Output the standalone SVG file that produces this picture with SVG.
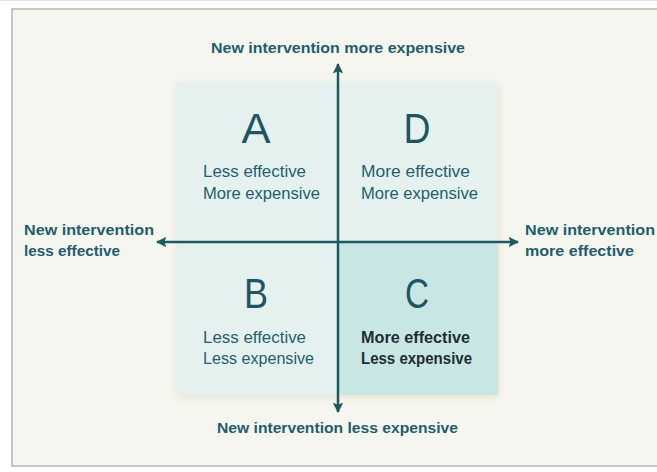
<svg xmlns="http://www.w3.org/2000/svg" width="657" height="472" viewBox="0 0 657 472">
<defs>
<style>
.lbl{font-family:"Liberation Sans",Arial,sans-serif;font-weight:bold;font-size:15px;fill:#1f5d6c}
.q{font-family:"Liberation Sans",Arial,sans-serif;font-size:16.5px;fill:#235f6d}
.qb{font-family:"Liberation Sans",Arial,sans-serif;font-size:16.5px;font-weight:bold;fill:#1f2c36}
.big{font-family:"Liberation Sans",Arial,sans-serif;font-size:42px;fill:#1f5562;text-anchor:middle}
.ax{stroke:#1c5a5f;stroke-width:2.5;fill:none}
</style>
<marker id="ah" viewBox="0 0 10 10" refX="9" refY="5" markerWidth="4.2" markerHeight="4.2" orient="auto" markerUnits="strokeWidth">
<path d="M0,0 L10,5 L0,10 L2,5 z" fill="#1c5a5f"/>
</marker>
<filter id="sh" x="-10%" y="-10%" width="120%" height="120%">
<feGaussianBlur stdDeviation="4"/>
</filter>
</defs>
<rect x="0" y="0" width="657" height="472" fill="#ffffff"/>
<line x1="0" y1="0.5" x2="657" y2="0.5" stroke="#e4e4e4" stroke-width="1"/>
<rect x="12" y="9" width="660" height="457" fill="#f6f6f0" stroke="#b3b3b3" stroke-width="1.5"/>
<rect x="177" y="84" width="322" height="313" fill="#e0d8c4" opacity="0.7" filter="url(#sh)"/>
<g id="quadA"><rect x="177" y="82" width="161" height="160" fill="#e5f1ef"/>
<text class="big" x="256" y="143" textLength="29" lengthAdjust="spacingAndGlyphs">A</text>
<text class="q" x="203" y="177" textLength="103" lengthAdjust="spacingAndGlyphs">Less effective</text>
<text class="q" x="203" y="199" textLength="117" lengthAdjust="spacingAndGlyphs">More expensive</text></g>
<g id="quadD"><rect x="338" y="82" width="160" height="160" fill="#e5f1ef"/>
<text class="big" x="417" y="143" textLength="27" lengthAdjust="spacingAndGlyphs">D</text>
<text class="q" x="361" y="177" textLength="109" lengthAdjust="spacingAndGlyphs">More effective</text>
<text class="q" x="361" y="199" textLength="117" lengthAdjust="spacingAndGlyphs">More expensive</text></g>
<g id="quadB"><rect x="177" y="242" width="161" height="153" fill="#e5f1ef"/>
<text class="big" x="256" y="308" textLength="24" lengthAdjust="spacingAndGlyphs">B</text>
<text class="q" x="203" y="343" textLength="103" lengthAdjust="spacingAndGlyphs">Less effective</text>
<text class="q" x="203" y="364" textLength="111" lengthAdjust="spacingAndGlyphs">Less expensive</text></g>
<g id="quadC"><rect x="338" y="242" width="160" height="153" fill="#c8e6e4"/>
<text class="big" x="417" y="308" textLength="24" lengthAdjust="spacingAndGlyphs">C</text>
<text class="qb" x="361" y="343" textLength="109" lengthAdjust="spacingAndGlyphs">More effective</text>
<text class="qb" x="361" y="364" textLength="111" lengthAdjust="spacingAndGlyphs">Less expensive</text></g>
<g id="connectors">
<line class="ax" x1="338" y1="242" x2="338" y2="64" marker-end="url(#ah)"/>
<line class="ax" x1="338" y1="242" x2="338" y2="412" marker-end="url(#ah)"/>
<line class="ax" x1="338" y1="242" x2="518" y2="242" marker-end="url(#ah)"/>
<line class="ax" x1="338" y1="242" x2="157" y2="242" marker-end="url(#ah)"/>
</g>
<g id="labels">
<text class="lbl" x="211" y="53" textLength="254" lengthAdjust="spacingAndGlyphs">New intervention more expensive</text>
<text class="lbl" x="217" y="433" textLength="241" lengthAdjust="spacingAndGlyphs">New intervention less expensive</text>
<text class="lbl" x="24" y="235" textLength="130" lengthAdjust="spacingAndGlyphs">New intervention</text>
<text class="lbl" x="24" y="256" textLength="96" lengthAdjust="spacingAndGlyphs">less effective</text>
<text class="lbl" x="525" y="235" textLength="130" lengthAdjust="spacingAndGlyphs">New intervention</text>
<text class="lbl" x="525" y="256" textLength="109" lengthAdjust="spacingAndGlyphs">more effective</text>
</g>
</svg>
